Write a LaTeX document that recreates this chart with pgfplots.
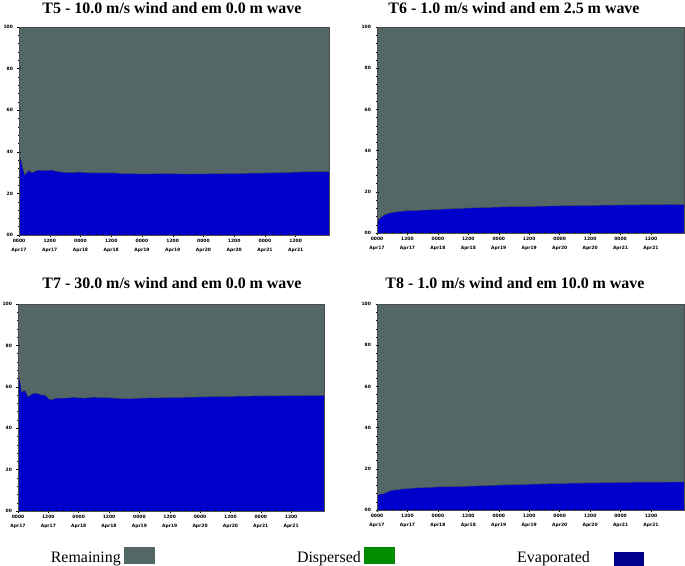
\documentclass[border=0pt]{standalone}
\usepackage{fontspec}
\setmainfont{Liberation Serif}
\newfontfamily\tickfont{DejaVu Sans}
\usepackage{pgfplots}
\usepackage{pgfplotstable}
\pgfplotsset{compat=1.18}
\definecolor{remgray}{RGB}{84,103,103}
\definecolor{evapblue}{RGB}{0,0,204}
\definecolor{evapnavy}{RGB}{0,0,140}
\definecolor{dispgreen}{RGB}{0,140,0}

\pgfplotstableread{
t evap
0 38.5
0.8 36
1.5 32
2.3 28.8
3.0 30
3.9 31
5.0 29.9
6.0 30.5
7.6 31.2
10 31.0
12.8 31.2
14 30.8
16.7 30.2
20 30.1
24 30.2
28 29.9
36 29.9
42 29.5
48 29.4
60 29.5
66 29.3
72 29.4
84 29.6
96 29.8
108 30.2
114 30.5
121 30.5
}\tfive

\pgfplotstableread{
t evap
0 4.6
0.5 6.2
1.3 7.4
2.5 8.5
4 9.3
5.2 9.8
8 10.3
11.7 10.8
18 11.1
24.6 11.5
37.6 12.2
50.6 12.7
64 13.0
76.5 13.3
90 13.5
104 13.7
119 13.9
121 13.9
}\tsix

\pgfplotstableread{
t evap
0 65
0.4 65.2
1.0 61
1.4 57.5
2.0 57.8
2.7 58.4
3.3 57
4.0 55.2
5.3 56.4
7.0 57
9.0 56.2
10.5 56.0
11.2 55.5
12.4 54.0
13.5 53.8
15 54.5
20 54.6
22 55.0
24 54.7
26 54.5
30 55.0
34 54.8
40 54.4
44 54.2
48 54.5
60 54.8
72 55.1
84 55.4
96 55.6
108 55.7
121 55.9
}\tseven

\pgfplotstableread{
t evap
0 7.4
2.6 7.9
4 8.7
5.2 9.4
7.8 9.9
11.7 10.4
18 10.9
24.6 11.2
37.6 11.6
50.6 12.2
76 13.0
102 13.5
121 13.6
}\teight

\pgfplotsset{
  oilpanel/.style={
    scale only axis,
    anchor=north west,
    xmin=0, xmax=121, ymin=0, ymax=100,
    xtick={0,12,...,108},
    xticklabels={{0000\\Apr17},{1200\\Apr17},{0000\\Apr18},{1200\\Apr18},{0000\\Apr19},{1200\\Apr19},{0000\\Apr20},{1200\\Apr20},{0000\\Apr21},{1200\\Apr21}},
    ytick={0,20,...,100},
    yticklabels={00,20,40,60,80,100},
    minor y tick num=4,
    minor x tick num=3,
    tick pos=left,
    tick align=center,
    major tick length=3bp,
    minor tick length=1.5bp,
    tick style={black, line width=0.4pt},
    ticklabel style={font=\tickfont\bfseries\fontsize{4.5}{9}\selectfont},
    x tick label style={align=center, yshift=1bp},
    y tick label style={xshift=-1bp},
    axis line style={black!70, line width=0.5pt},
    axis on top,
  },
}

\begin{document}
\begin{tikzpicture}
\useasboundingbox (0,0) rectangle (685bp,-566bp);

% T5
\begin{axis}[oilpanel, at={(19bp,-27bp)}, width=310bp, height=208bp]
  \addplot[fill=remgray, draw=none] coordinates {(0,100) (121,100)} \closedcycle;
  \addplot[fill=evapblue, draw=none] table[x=t, y=evap] {\tfive} \closedcycle;
  \addplot[black!70, line width=0.4pt] table[x=t, y=evap] {\tfive};
\end{axis}
% T6
\begin{axis}[oilpanel, at={(377bp,-27bp)}, width=307bp, height=206bp]
  \addplot[fill=remgray, draw=none] coordinates {(0,100) (121,100)} \closedcycle;
  \addplot[fill=evapblue, draw=none] table[x=t, y=evap] {\tsix} \closedcycle;
  \addplot[black!70, line width=0.4pt] table[x=t, y=evap] {\tsix};
\end{axis}
% T7
\begin{axis}[oilpanel, at={(18bp,-304bp)}, width=306bp, height=207bp]
  \addplot[fill=remgray, draw=none] coordinates {(0,100) (121,100)} \closedcycle;
  \addplot[fill=evapblue, draw=none] table[x=t, y=evap] {\tseven} \closedcycle;
  \addplot[black!70, line width=0.4pt] table[x=t, y=evap] {\tseven};
\end{axis}
% T8
\begin{axis}[oilpanel, at={(377bp,-304bp)}, width=307bp, height=206bp]
  \addplot[fill=remgray, draw=none] coordinates {(0,100) (121,100)} \closedcycle;
  \addplot[fill=evapblue, draw=none] table[x=t, y=evap] {\teight} \closedcycle;
  \addplot[black!70, line width=0.4pt] table[x=t, y=evap] {\teight};
\end{axis}

% titles
\begin{scope}[every node/.style={font=\bfseries\fontsize{16}{18}\selectfont, inner sep=0pt}]
  \node at (172bp,-8bp) {T5 - 10.0 m/s wind and em 0.0 m wave};
  \node at (514bp,-8bp) {T6 - 1.0 m/s wind and em 2.5 m wave};
  \node at (172bp,-283bp) {T7 - 30.0 m/s wind and em 0.0 m wave};
  \node at (515bp,-283bp) {T8 - 1.0 m/s wind and em 10.0 m wave};
\end{scope}

% legend
\begin{scope}[every node/.style={font=\fontsize{16}{18}\selectfont, inner sep=0pt, anchor=base east}]
  \node at (121bp,-562bp) {Remaining};
  \fill[remgray] (124bp,-547bp) rectangle (155bp,-564bp);
  \node at (361bp,-562bp) {Dispersed};
  \fill[dispgreen] (364bp,-547bp) rectangle (395bp,-564bp);
  \node at (590bp,-562bp) {Evaporated};
  \fill[evapnavy] (614bp,-552bp) rectangle (644bp,-566bp);
\end{scope}
\end{tikzpicture}
\end{document}
